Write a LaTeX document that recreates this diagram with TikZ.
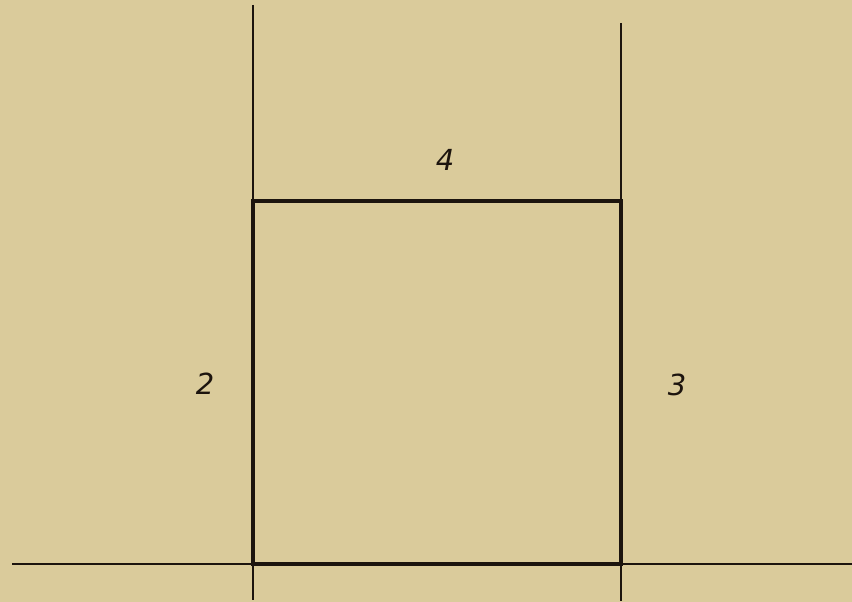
\documentclass[tikz,border=0pt]{standalone}
\usepackage{fontspec}
\setmainfont{DejaVu Sans}
\definecolor{paper}{RGB}{218,203,155}
\definecolor{ink}{RGB}{28,20,14}
\begin{document}
\begin{tikzpicture}[x=1pt,y=-1pt,
  thinline/.style={draw=ink,line width=1.6pt},
  thickline/.style={draw=ink,line width=3.6pt},
  baseline/.style={draw=ink,line width=2.2pt},
  lbl/.style={font=\fontsize{29}{32}\selectfont\itshape,text=ink,inner sep=0pt}]
\fill[paper] (0,0) rectangle (852,602);
\useasboundingbox (0,0) rectangle (852,602);
\coordinate (LT) at (253,5);
\coordinate (RT) at (621,23);
\coordinate (A) at (253,201);
\coordinate (B) at (621,201);
\coordinate (C) at (621,564);
\coordinate (D) at (253,564);
\coordinate (LB) at (253,600);
\coordinate (RB) at (621,601);
\coordinate (GL) at (12,564);
\coordinate (GR) at (852,564);
\draw[thinline] (LT) -- (A);
\draw[thinline] (RT) -- (B);
\draw[thinline] (D) -- (LB);
\draw[thinline] (C) -- (RB);
\draw[baseline] (GL) -- (GR);
\draw[thickline,line join=miter] (D) -- (A) -- (B) -- (C) -- cycle;
\node[lbl] (n4) at (445,160) {4};
\node[lbl] (n2) at (205,384) {2};
\node[lbl] (n3) at (677,385) {3};
\end{tikzpicture}
\end{document}
